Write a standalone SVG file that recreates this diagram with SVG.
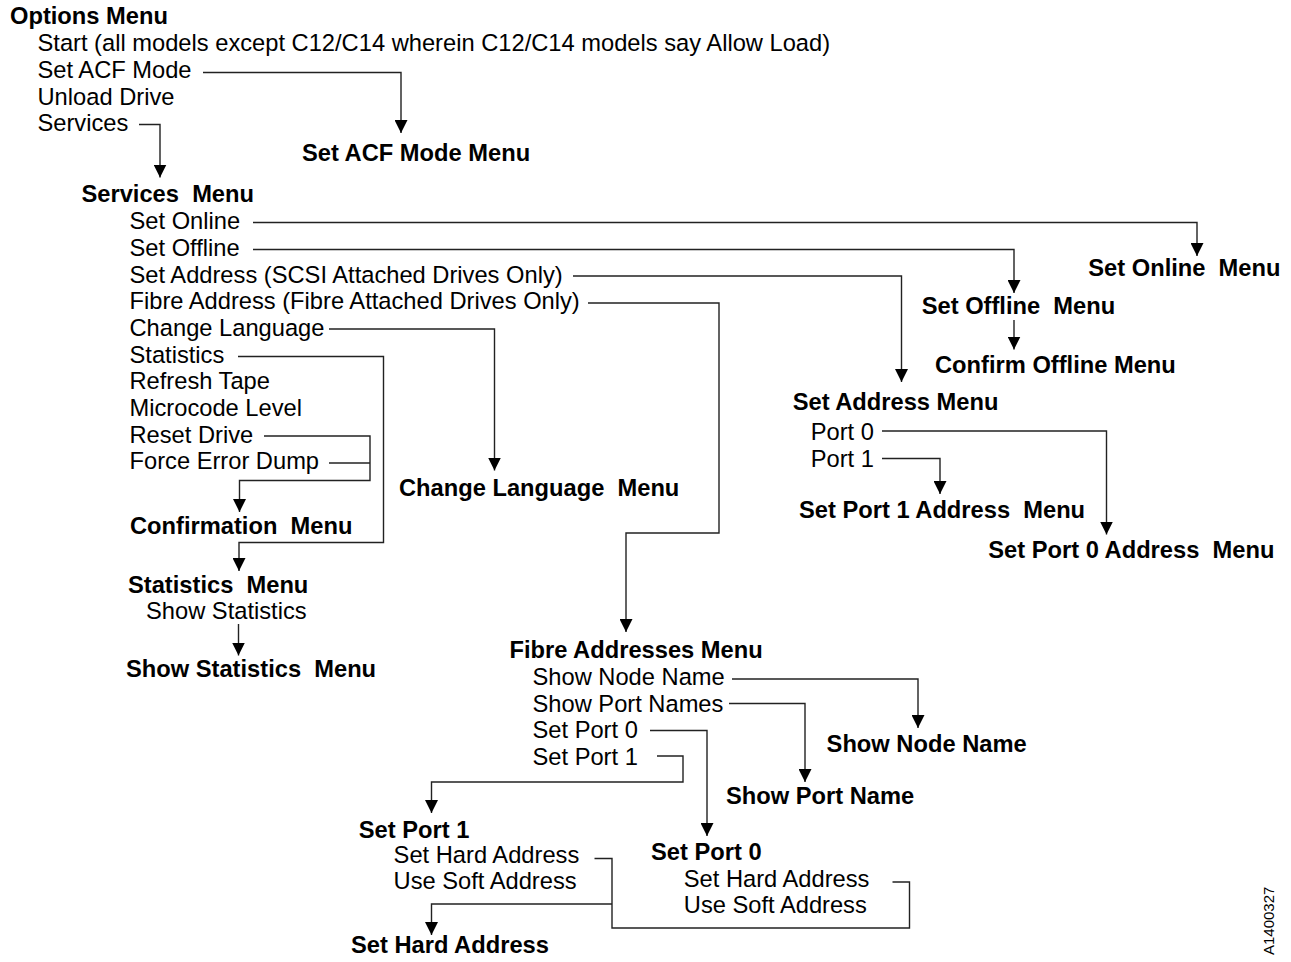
<svg xmlns="http://www.w3.org/2000/svg" width="1291" height="962" viewBox="0 0 1291 962">
<style>
text{font-family:"Liberation Sans",Arial,sans-serif;font-size:23.7px;fill:#000}
.b{font-weight:bold}
.id{font-size:15px}
.c path{fill:none;stroke:#222;stroke-width:1.4}
</style>
<defs>
<marker id="ar" viewBox="0 0 13 13" refX="13" refY="6.5" markerWidth="13" markerHeight="13" markerUnits="userSpaceOnUse" orient="auto">
<path d="M0,0 L13,6.5 L0,13 z" fill="#000"/>
</marker>
</defs>
<rect width="1291" height="962" fill="#fff"/>
<g class="c" id="connectors">
<path marker-end="url(#ar)" d="M203,72.5 H401 V133"/>
<path marker-end="url(#ar)" d="M139,124.5 H160 V177.5"/>
<path marker-end="url(#ar)" d="M253,222.5 H1197 V256"/>
<path marker-end="url(#ar)" d="M253,249.5 H1014 V293"/>
<path marker-end="url(#ar)" d="M573,276 H901.5 V382"/>
<path marker-end="url(#ar)" d="M588,303 H719 V533 H626 V632"/>
<path marker-end="url(#ar)" d="M329,329 H494.5 V470.5"/>
<path marker-end="url(#ar)" d="M238,356.5 H383.5 V542.5 H239 V571"/>
<path marker-end="url(#ar)" d="M264,436 H370 V480.5 H239.5 V512"/>
<path d="M329,463 H370"/>
<path marker-end="url(#ar)" d="M238.5,624 V655.5"/>
<path marker-end="url(#ar)" d="M1014,320 V349.5"/>
<path marker-end="url(#ar)" d="M882,431 H1106.5 V534.5"/>
<path marker-end="url(#ar)" d="M882,458.5 H940 V494"/>
<path marker-end="url(#ar)" d="M732,679 H918 V728"/>
<path marker-end="url(#ar)" d="M729,703.5 H805 V782"/>
<path marker-end="url(#ar)" d="M650,730.5 H707 V836"/>
<path marker-end="url(#ar)" d="M657,756 H683 V782 H431.5 V813"/>
<path d="M594.5,858.5 H612 V928 H909.5 V882 H892.5"/>
<path marker-end="url(#ar)" d="M612,904 H431.5 V935"/>
</g>
<g id="options-menu">
<text class="b" x="10" y="23.5">Options Menu</text>
<text x="37.5" y="51">Start (all models except C12/C14 wherein C12/C14 models say Allow Load)</text>
<text x="37.5" y="78">Set ACF Mode</text>
<text x="37.5" y="104.5">Unload Drive</text>
<text x="37.5" y="131">Services</text>
</g>
<g id="set-acf-mode-menu"><text class="b" x="302" y="161">Set ACF Mode Menu</text></g>
<g id="services-menu">
<text class="b" x="81.5" y="202.3" xml:space="preserve">Services  Menu</text>
<text x="129.5" y="229.3">Set Online</text>
<text x="129.5" y="256">Set Offline</text>
<text x="129.5" y="282.7">Set Address (SCSI Attached Drives Only)</text>
<text x="129.5" y="309.3">Fibre Address (Fibre Attached Drives Only)</text>
<text x="129.5" y="336">Change Language</text>
<text x="129.5" y="362.7">Statistics</text>
<text x="129.5" y="389.3">Refresh Tape</text>
<text x="129.5" y="416">Microcode Level</text>
<text x="129.5" y="442.7">Reset Drive</text>
<text x="129.5" y="469.3">Force Error Dump</text>
</g>
<g id="confirmation-menu"><text class="b" x="130" y="533.5" xml:space="preserve">Confirmation  Menu</text></g>
<g id="statistics-menu">
<text class="b" x="128" y="592.5" xml:space="preserve">Statistics  Menu</text>
<text x="146" y="618.7">Show Statistics</text>
</g>
<g id="show-statistics-menu"><text class="b" x="126" y="676.7" xml:space="preserve">Show Statistics  Menu</text></g>
<g id="change-language-menu"><text class="b" x="399" y="495.5" xml:space="preserve">Change Language  Menu</text></g>
<g id="set-online-menu"><text class="b" x="1088.3" y="276" xml:space="preserve">Set Online  Menu</text></g>
<g id="set-offline-menu"><text class="b" x="921.7" y="314.3" xml:space="preserve">Set Offline  Menu</text></g>
<g id="confirm-offline-menu"><text class="b" x="935" y="372.5">Confirm Offline Menu</text></g>
<g id="set-address-menu">
<text class="b" x="792.7" y="410">Set Address Menu</text>
<text x="810.7" y="440">Port 0</text>
<text x="810.7" y="466.7">Port 1</text>
</g>
<g id="set-port-1-address-menu"><text class="b" x="799" y="518.3" xml:space="preserve">Set Port 1 Address  Menu</text></g>
<g id="set-port-0-address-menu"><text class="b" x="988.3" y="558.3" xml:space="preserve">Set Port 0 Address  Menu</text></g>
<g id="fibre-addresses-menu">
<text class="b" x="509.5" y="658.3">Fibre Addresses Menu</text>
<text x="532.5" y="685">Show Node Name</text>
<text x="532.5" y="711.5">Show Port Names</text>
<text x="532.5" y="738">Set Port 0</text>
<text x="532.5" y="764.5">Set Port 1</text>
</g>
<g id="show-node-name"><text class="b" x="826.6" y="751.7">Show Node Name</text></g>
<g id="show-port-name"><text class="b" x="726" y="804.3">Show Port Name</text></g>
<g id="set-port-1">
<text class="b" x="358.8" y="838.3">Set Port 1</text>
<text x="393.6" y="863.3">Set Hard Address</text>
<text x="393.6" y="889.3">Use Soft Address</text>
</g>
<g id="set-port-0">
<text class="b" x="651" y="860">Set Port 0</text>
<text x="683.8" y="886.7">Set Hard Address</text>
<text x="683.8" y="912.7">Use Soft Address</text>
</g>
<g id="set-hard-address"><text class="b" x="351" y="953.3">Set Hard Address</text></g>
<text class="id" transform="translate(1274,955) rotate(-90)">A1400327</text>
</svg>
